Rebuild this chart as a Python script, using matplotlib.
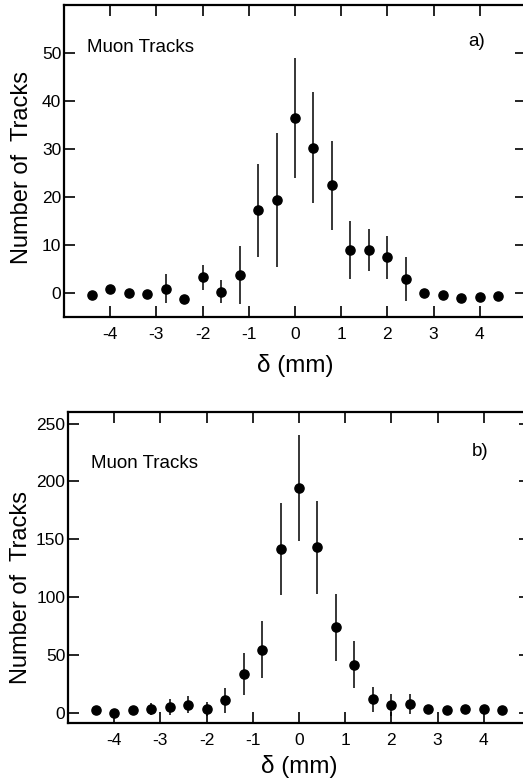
import numpy as np
from matplotlib import pyplot as plt

# bin centres (mm), same for both panels
delta = [-4.4, -4.0, -3.6, -3.2, -2.8, -2.4, -2.0, -1.6, -1.2, -0.8, -0.4, 0.0,
         0.4, 0.8, 1.2, 1.6, 2.0, 2.4, 2.8, 3.2, 3.6, 4.0, 4.4]

# panel a
counts_a = [-0.4, 0.8, -0.1, -0.2, 0.9, -1.3, 3.3, 0.3, 3.7, 17.2, 19.4, 36.4,
            30.3, 22.4, 8.9, 9.0, 7.4, 2.9, 0.0, -0.4, -1.0, -0.9, -0.6]
err_a = [0, 0, 0, 0, 3.0, 0, 2.6, 2.4, 6.0, 9.6, 14.0, 12.5,
         11.6, 9.3, 6.0, 4.4, 4.4, 4.6, 0, 0, 0, 0, 0]

# panel b
counts_b = [2.0, 0.0, 2.5, 3.0, 4.8, 7.0, 3.0, 10.5, 33.5, 54.5, 141.5, 194.0,
            143.0, 74.0, 41.5, 11.5, 6.5, 7.5, 3.5, 2.5, 3.0, 3.0, 2.0]
err_b = [0, 0, 0, 5, 7, 7.5, 6, 10.5, 18, 25, 40, 46,
         40, 29, 20, 11, 9.5, 8.5, 3.5, 0, 0, 0, 0]

x_ticks = [-4, -3, -2, -1, 0, 1, 2, 3, 4]
y_ticks_a = [0, 10, 20, 30, 40, 50]
y_ticks_b = [0, 50, 100, 150, 200, 250]

plt.rcParams['font.family'] = ['Liberation Sans', 'DejaVu Sans']
plt.rcParams['axes.unicode_minus'] = False

W, H = 523, 782
fig = plt.figure(figsize=(W / 100, H / 100), dpi=100)


def panel(rect, y, err, yticks, ylim, tag, muon_y, tag_y, ylab_xy, xpad):
    l, t, r, b = rect
    ax = fig.add_axes([l / W, 1 - b / H, (r - l) / W, (b - t) / H])
    ax.errorbar(delta, y, yerr=err, fmt='o', color='black', ms=6.6,
                elinewidth=1.1, capsize=0)
    ax.set_xlim(-5, 5)
    ax.set_ylim(*ylim)
    ax.set_xticks(x_ticks)
    ax.set_yticks(yticks)
    ax.tick_params(direction='in', length=8, width=1.2, top=True, right=True,
                   labelsize=12.5)
    ax.tick_params(axis='x', pad=7)
    ax.tick_params(axis='y', pad=2)
    for s in ax.spines.values():
        s.set_linewidth(1.6)
    ax.set_xlabel('δ (mm)', fontsize=17.5, labelpad=xpad)
    ax.set_ylabel('Number of  Tracks', fontsize=17)
    ax.yaxis.set_label_coords(*ylab_xy)
    ax.text(0.05, muon_y, 'Muon Tracks', transform=ax.transAxes, fontsize=13.5)
    ax.text(0.875, tag_y, tag, transform=ax.transAxes, fontsize=13.5)
    return ax


panel((64, 5, 526, 317), counts_a, err_a, y_ticks_a, (-5, 60), 'a)',
      0.85, 0.87, (-0.068, 0.48), 9)
panel((68, 412, 530, 723), counts_b, err_b, y_ticks_b, (-9, 260), 'b)',
      0.82, 0.86, (-0.077, 0.435), 5)

fig.savefig('out.png', dpi=100)
